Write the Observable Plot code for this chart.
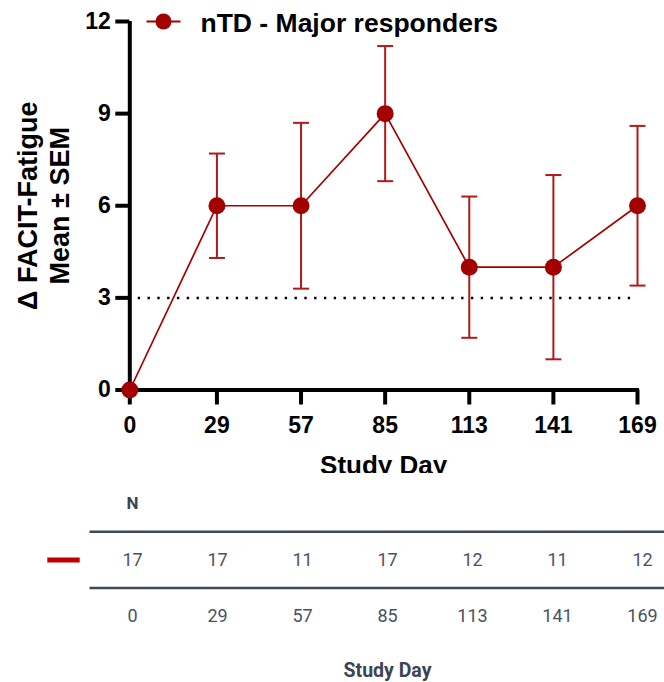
<!DOCTYPE html>
<html>
<head>
<meta charset="utf-8">
<script src="https://cdn.jsdelivr.net/npm/d3@7"></script>
<script src="https://cdn.jsdelivr.net/npm/@observablehq/plot@0.6"></script>
<style>
  body { margin: 0; background: #fff; }
  #chart { width: 664px; height: 682px; overflow: hidden; background: #fff; }
  #chart svg { display: block; overflow: hidden; }
</style>
</head>
<body>
<div id="chart"></div>
<script>
// Study visits (days) and change from baseline in FACIT-Fatigue
const days = [0, 29, 57, 85, 113, 141, 169];
const means = [0, 6, 6, 9, 4, 4, 6];
const sems = [0, 1.7, 2.7, 2.2, 2.3, 3.0, 2.6];
const counts = [17, 17, 11, 17, 12, 11, 12];
const yTicks = [0, 3, 6, 9, 12];
const threshold = 3;            // clinically meaningful change
const seriesName = "nTD - Major responders";
const yLabel = "\u0394 FACIT-Fatigue\nMean \u00b1 SEM";
const xLabel = "Study Day";

const red = "#a30000";
const barRed = "#b01a1a";
const font = "'Liberation Sans', Arial, Helvetica, sans-serif";

const data = days.map((day, i) => ({day, mean: means[i], sem: sems[i], n: counts[i]}));
const withError = data.filter(d => d.sem > 0);

// horizontal stroke used for error-bar caps and legend swatches
const hBar = {
  draw(context, size) {
    const w = Math.sqrt(size / Math.PI);
    context.moveTo(-w, 0);
    context.lineTo(w, 0);
  }
};

const chart = Plot.plot({
  width: 664,
  height: 473,
  marginLeft: 129.3,
  marginRight: 27,
  marginTop: 21,
  marginBottom: 83.5,
  x: {domain: [0, 169]},
  y: {domain: [0, 12]},
  style: {fontFamily: font, fontWeight: "bold", color: "#000", background: "#fff", overflow: "hidden"},
  marks: [
    // threshold
    Plot.ruleY([threshold], {x1: 2.8, x2: 167.3, stroke: "#000", strokeWidth: 2.5, strokeDasharray: "2.4 7.4"}),
    // axes
    Plot.axisY({ticks: yTicks, tickSize: 14, tickPadding: 5, strokeWidth: 4, fontSize: 23, fontWeight: "bold", label: null}),
    Plot.axisX({ticks: days, tickSize: 15, tickPadding: 12, strokeWidth: 4, fontSize: 23, fontWeight: "bold", label: null}),
    Plot.ruleX([0], {y1: 0, y2: 12, strokeWidth: 4}),
    Plot.ruleY([0], {x1: 0, x2: 169, strokeWidth: 4, strokeLinecap: "square"}),
    Plot.text([yLabel], {frameAnchor: "left", rotate: -90, dx: -60.7, lineAnchor: "bottom", lineHeight: 1.2, fontSize: 27, fontWeight: "bold", textAnchor: "middle"}),
    Plot.text([xLabel], {frameAnchor: "bottom", dy: 83.5, lineAnchor: "bottom", fontSize: 26, fontWeight: "bold"}),
    // error bars (mean ± SEM)
    Plot.link(withError, {x1: "day", x2: "day", y1: d => d.mean - d.sem, y2: d => d.mean + d.sem, stroke: barRed, strokeWidth: 2}),
    Plot.dot(withError, {x: "day", y: d => d.mean + d.sem, symbol: hBar, r: 8, stroke: barRed, strokeWidth: 2}),
    Plot.dot(withError, {x: "day", y: d => d.mean - d.sem, symbol: hBar, r: 8, stroke: barRed, strokeWidth: 2}),
    // mean trajectory
    Plot.line(data, {x: "day", y: "mean", stroke: red, strokeWidth: 1.7}),
    Plot.dot(data, {x: "day", y: "mean", r: 8.5, fill: red, stroke: "none"}),
    // legend
    Plot.dot([seriesName], {x: null, y: null, frameAnchor: "top-left", dx: 33.7, symbol: hBar, r: 17, stroke: red, strokeWidth: 2}),
    Plot.dot([seriesName], {x: null, y: null, frameAnchor: "top-left", dx: 33.7, r: 8, fill: red, stroke: "none"}),
    Plot.text([seriesName], {frameAnchor: "top-left", dx: 70.7, dy: 10.5, textAnchor: "start", lineAnchor: "bottom", fontSize: 26.5, fontWeight: "bold"})
  ]
});

// N table under the chart: one evenly spaced column per visit
const tableFont = "Roboto, 'Liberation Sans', sans-serif";
const middleDay = days[Math.floor(days.length / 2)];
const table = Plot.plot({
  width: 664,
  height: 209,
  marginLeft: 89.5,
  marginRight: 0,
  marginTop: 30.3,
  marginBottom: 10.3,
  x: {type: "point", domain: days, padding: 0, insetLeft: 41, insetRight: 20, axis: null},
  y: {domain: [0, 3], reverse: true, axis: null},
  style: {fontFamily: tableFont, fontSize: "18px", color: "#4a5262", background: "#fff"},
  marks: [
    Plot.text(["N"], {x: days[0], y: 0, fontWeight: "bold", fontSize: 17, fill: "#3b4454"}),
    Plot.ruleY([0.5, 1.5], {stroke: "#3f4858", strokeWidth: 2.5}),
    Plot.dot([seriesName], {x: days[0], y: 1, dx: -69, symbol: hBar, r: 16.2, stroke: "#c00000", strokeWidth: 5}),
    Plot.text(data, {x: "day", y: 1, text: d => String(d.n)}),
    Plot.text(data, {x: "day", y: 2, text: d => String(d.day)}),
    Plot.text([xLabel], {x: middleDay, y: 3, dy: -1.5, fontWeight: "bold", fontSize: 19.5, fill: "#3b4454"})
  ]
});

document.getElementById("chart").append(chart, table);
</script>
</body>
</html>
